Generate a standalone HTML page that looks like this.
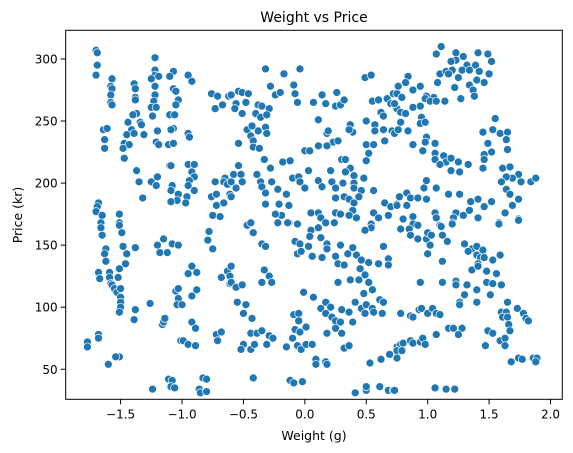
<!DOCTYPE html>
<html><head><meta charset="utf-8"><style>
html,body{margin:0;padding:0;background:#fff;}
svg{display:block;font-family:"DejaVu Sans","Liberation Sans",sans-serif;}
</style></head><body>
<svg id="chart" width="573" height="453" viewBox="0 0 573 453" xmlns="http://www.w3.org/2000/svg">
<rect width="573" height="453" fill="#fff"/>
<text x="314" y="22" font-size="14" text-anchor="middle" fill="#000">Weight vs Price</text>
<text x="314" y="440" font-size="12.5" text-anchor="middle" fill="#000">Weight (g)</text>
<text x="0" y="0" font-size="12.5" text-anchor="middle" fill="#000" transform="translate(22,215) rotate(-90)">Price (kr)</text>
<g id="points"></g>
<g id="axes"></g>
</svg>
<script>
const xTicks = [-1.5,-1.0,-0.5,0.0,0.5,1.0,1.5,2.0];
const xTickLabels = ["\u22121.5","\u22121.0","\u22120.5","0.0","0.5","1.0","1.5","2.0"];
const yTicks = [50,100,150,200,250,300];
const yTickLabels = ["50","100","150","200","250","300"];
const weights = [
-1.70,-1.69,-1.69,-1.70,-1.57,-1.58,-1.57,-1.58,-1.58,-1.57,
-1.22,-1.22,-1.22,-1.19,-1.25,-1.22,-1.22,-1.23,-1.25,-1.21,
-1.24,-1.39,-1.38,-1.38,-1.38,-1.37,-1.40,-1.44,-1.41,-1.45,
-1.39,-1.34,-1.33,-1.31,-1.47,-1.43,-1.48,-1.47,-1.20,-1.21,
-1.19,-1.11,-1.07,-1.07,-1.10,-1.07,-1.05,-1.03,-1.05,-1.10,
-1.06,-1.07,-1.09,-0.95,-0.92,-0.95,-0.94,-1.64,-1.61,-1.63,
-1.63,-0.76,-0.71,-0.62,-0.73,-0.67,-1.37,-1.35,-1.25,-1.21,
-1.20,-1.10,-1.09,-0.95,-0.90,-0.92,-0.90,-0.94,-0.95,-0.90,
-1.08,-1.09,-1.03,-1.04,-1.09,-0.96,-0.97,-1.32,-1.68,-1.69,
-1.70,-1.65,-1.51,-0.73,-0.65,-0.66,-0.63,-0.61,-0.76,-0.72,
-0.72,-0.66,-0.75,-0.69,
-1.66,-1.66,-1.65,-1.51,-1.51,-1.49,-1.48,-1.45,-1.46,-1.38,
-1.62,-1.63,-1.62,-1.68,-1.67,-1.59,-1.59,-1.58,-1.57,-1.55,
-1.53,-1.51,-1.52,-1.50,-1.50,-1.50,-1.50,-1.51,-1.39,-1.38,
-1.20,-1.15,-1.18,-1.12,-1.08,-1.03,-1.26,-1.16,-1.15,-1.14,
-1.05,-1.03,-1.03,-1.04,-1.00,-0.95,-0.92,-0.88,-0.92,-0.88,
-0.92,-0.89,-1.01,-0.99,-0.95,-0.89,-0.78,-0.79,-0.75,-0.72,
-0.68,-0.71,-0.68,-0.63,-0.61,-0.61,-1.68,-1.68,-1.77,-1.77,
-1.51,-1.54,-1.60,-1.24,-1.11,-1.08,-1.09,-1.06,-0.83,-0.80,
-0.86,-0.85,-0.80,
-0.60,-0.54,-0.51,-0.46,-0.56,-0.57,-0.51,-0.48,-0.38,-0.35,
-0.29,-0.40,-0.36,-0.31,-0.47,-0.43,-0.38,-0.32,-0.31,-0.44,
-0.42,-0.42,-0.37,-0.54,-0.32,-0.28,-0.24,-0.20,-0.17,-0.04,
-0.09,-0.08,-0.06,0.07,0.14,0.17,0.26,0.25,0.29,0.32,
0.11,0.18,0.19,0.23,0.27,0.11,0.18,0.00,0.04,0.37,
0.39,0.36,0.49,0.54,0.50,0.57,0.57,0.55,0.60,0.67,
0.70,0.72,0.75,0.62,0.64,0.64,0.71,0.73,0.65,0.50,
0.56,0.52,0.50,-0.33,-0.28,-0.18,-0.12,-0.54,-0.58,-0.52,
-0.51,-0.60,-0.56,-0.60,-0.39,-0.36,-0.35,-0.32,-0.27,-0.22,
-0.15,-0.10,-0.05,-0.04,0.00,0.03,0.11,0.14,0.21,0.22,
0.25,0.30,0.33,0.37,0.33,0.40,0.31,0.40,0.40,0.46,
0.25,0.32,0.36,0.40,0.44,0.39,0.48,0.56,-0.32,-0.21,
-0.19,-0.13,-0.24,-0.13,-0.06,0.05,0.11,0.13,0.25,0.29,
0.36,0.42,0.54,0.56,0.60,0.65,0.70,0.75,0.68,-0.44,
-0.47,-0.44,-0.42,-0.22,-0.14,-0.06,0.05,0.04,0.11,0.17,
0.24,0.13,-0.08,-0.04,0.03,-0.06,-0.03,0.06,0.14,0.18,
0.18,0.29,0.35,0.39,0.25,0.27,0.32,0.42,0.46,0.52,
0.45,0.49,0.37,0.44,0.52,0.55,0.48,0.27,0.60,0.68,
0.68,0.54,0.49,0.64,-0.35,-0.32,-0.33,-0.29,-0.35,-0.27,
-0.60,-0.60,-0.56,-0.51,-0.01,0.07,-0.55,-0.48,-0.50,-0.43,
0.13,0.17,0.21,0.17,0.22,0.25,0.29,0.25,0.30,0.36,
0.39,0.30,0.18,0.41,0.46,0.50,0.55,0.49,0.56,0.61,
0.64,0.63,-0.09,-0.05,-0.05,-0.08,-0.04,0.01,-0.10,-0.15,
-0.06,-0.03,0.01,0.06,-0.44,-0.39,-0.35,-0.29,-0.26,-0.31,
-0.50,-0.52,-0.44,-0.41,0.32,0.36,0.09,0.09,0.17,0.18,
0.53,0.62,0.69,0.75,0.75,-0.42,-0.12,-0.09,-0.02,0.41,
0.50,0.50,0.61,0.68,0.72,
1.11,1.07,1.23,1.29,1.23,1.19,1.41,1.49,1.52,1.32,
1.39,1.10,1.15,1.20,1.28,1.34,1.42,1.50,1.08,1.17,
1.25,1.22,1.34,1.37,1.38,1.46,1.40,1.27,0.84,0.82,
0.76,0.75,0.79,0.88,0.94,0.99,1.05,0.98,1.02,1.07,
1.14,0.94,0.88,0.73,0.78,0.82,0.78,0.95,0.94,0.98,
0.76,0.84,0.99,0.98,0.88,0.96,1.06,1.06,1.13,1.15,
1.19,1.06,1.10,1.19,1.26,1.25,1.33,1.45,1.53,1.59,
1.65,1.64,1.55,1.49,1.52,1.46,1.46,1.65,1.45,1.61,
1.67,1.74,1.76,1.69,1.64,1.60,1.84,1.88,1.64,1.67,
1.74,1.69,1.63,1.74,1.58,1.52,1.46,1.41,1.35,1.34,
1.29,1.23,1.21,1.17,1.26,1.07,0.99,0.97,0.83,0.86,
0.92,0.77,0.75,0.83,0.88,0.80,1.06,1.07,1.10,1.20,
1.41,0.99,0.88,
0.78,0.85,0.86,0.92,0.92,0.99,1.00,1.03,1.02,1.00,
1.11,1.12,1.16,1.20,1.12,0.94,1.12,1.23,1.23,1.32,
1.30,1.40,1.26,1.26,1.40,1.51,1.48,1.53,1.60,1.56,
1.48,1.36,1.30,1.36,1.33,1.40,1.45,1.40,1.43,1.41,
1.46,1.53,1.59,1.41,1.65,1.60,1.64,1.61,1.65,1.73,
1.78,1.80,1.82,1.66,1.67,1.49,1.53,1.59,1.63,1.63,
1.47,1.17,1.21,1.28,1.25,1.07,0.78,0.86,0.88,0.93,
0.95,1.00,1.04,1.07,1.10,0.78,0.80,0.75,0.75,0.79,
0.86,0.88,0.94,0.96,0.98,1.68,1.74,1.77,1.86,1.89,
1.88,1.06,1.15,1.22,0.73,1.58,1.74
];
const prices = [
307,305,295,287,284,278,276,271,265,263,
301,291,287,286,284,278,271,266,261,261,
254,280,276,269,267,256,255,249,243,239,
240,249,247,239,232,231,228,220,242,233,
231,231,232,290,286,276,274,267,263,255,
255,244,243,287,282,240,237,243,244,235,
228,272,270,270,260,263,210,201,201,198,
205,214,214,215,215,209,205,202,198,194,
198,194,191,186,185,189,184,188,184,181,
177,174,175,201,204,201,199,191,189,191,
182,184,174,173,
168,164,158,168,166,160,149,143,135,148,
147,143,137,128,123,128,124,119,118,115,
112,131,124,115,108,104,100,96,90,98,
150,155,144,144,151,150,103,86,88,91,
113,115,107,102,102,127,133,128,109,114,
88,83,73,73,70,69,161,154,147,78,
80,73,124,129,125,119,78,75,72,68,
60,60,54,34,42,41,36,35,43,42,
34,31,32,
271,274,273,272,264,260,256,265,263,262,
260,256,253,255,243,246,242,245,240,238,
234,229,228,232,292,278,271,273,288,292,
279,272,265,265,271,264,273,262,263,267,
251,240,242,233,234,230,230,226,226,247,
241,243,285,287,250,247,242,266,267,268,
264,272,260,257,254,243,242,240,234,231,
231,224,218,219,212,217,218,214,207,207,
201,201,196,189,207,201,197,192,201,195,
191,204,205,201,196,210,202,197,210,201,
196,219,219,212,209,206,200,200,196,194,
188,189,187,184,189,178,204,194,183,183,
174,182,175,168,167,176,176,172,176,175,
174,172,167,176,172,184,181,183,174,168,
166,168,160,168,168,167,162,157,164,168,
168,156,153,151,149,143,145,141,140,151,
147,150,143,148,141,135,134,142,138,136,
131,126,122,122,120,114,111,120,135,139,
134,164,162,149,151,149,130,125,120,120,
133,120,116,118,112,108,104,102,95,91,
99,104,100,95,92,89,88,83,98,96,
88,79,79,104,99,102,99,95,96,106,
104,95,94,95,89,82,80,84,75,68,
69,66,70,70,79,79,81,77,75,70,
70,66,66,70,67,69,58,54,56,54,
55,58,62,60,68,43,41,39,40,31,
33,36,36,33,33,
310,304,305,302,299,298,305,304,298,295,
295,288,290,291,291,291,290,288,281,288,
285,277,279,275,270,281,283,268,286,281,
278,272,269,275,278,270,269,268,266,266,
266,262,261,264,257,256,249,253,248,249,
243,242,237,233,231,226,232,224,222,217,
220,219,215,210,209,217,215,241,243,240,
241,235,252,232,225,223,219,227,212,212,
213,207,201,204,205,201,201,204,195,191,
187,182,176,171,168,185,181,187,185,178,
174,176,172,191,191,196,202,196,192,188,
188,189,182,182,173,171,176,172,166,168,
172,187,167,
163,163,158,166,155,155,160,158,150,143,
165,158,153,167,137,120,120,121,118,118,
110,114,104,102,104,110,120,119,118,127,
129,130,151,147,145,149,146,142,140,135,
140,138,142,133,104,96,96,92,92,99,
95,91,89,86,81,81,79,73,75,69,
69,83,83,83,78,78,95,93,92,98,
99,95,99,95,94,70,71,65,59,65,
73,71,72,75,70,56,59,58,59,59,
56,35,34,34,33,167,170
];

const NS = "http://www.w3.org/2000/svg";
const plot = {left:65.7, right:562.3, top:30.3, bottom:399.3};
const xDomain = [-1.947, 2.096];
const yDomain = [25.8, 323.1];
function xScale(v){ return plot.left + (v - xDomain[0]) / (xDomain[1] - xDomain[0]) * (plot.right - plot.left); }
function yScale(v){ return plot.bottom - (v - yDomain[0]) / (yDomain[1] - yDomain[0]) * (plot.bottom - plot.top); }

const pg = document.getElementById('points');
const n = Math.min(weights.length, prices.length);
for (let i = 0; i < n; i++) {
  const c = document.createElementNS(NS, 'circle');
  c.setAttribute('cx', xScale(weights[i]).toFixed(2));
  c.setAttribute('cy', yScale(prices[i]).toFixed(2));
  c.setAttribute('r', '4');
  c.setAttribute('fill', '#1f77b4');
  c.setAttribute('stroke', '#ffffff');
  c.setAttribute('stroke-width', '0.7');
  
  
  pg.appendChild(c);
}

const ag = document.getElementById('axes');
const frame = document.createElementNS(NS, 'rect');
frame.setAttribute('x', plot.left);
frame.setAttribute('y', plot.top);
frame.setAttribute('width', plot.right - plot.left);
frame.setAttribute('height', plot.bottom - plot.top);
frame.setAttribute('fill', 'none');
frame.setAttribute('stroke', '#000');
frame.setAttribute('stroke-width', '1');


ag.appendChild(frame);

xTicks.forEach((t, i) => {
  const x = xScale(t);
  const l = document.createElementNS(NS, 'line');
  l.setAttribute('x1', x); l.setAttribute('x2', x);
  l.setAttribute('y1', plot.bottom); l.setAttribute('y2', plot.bottom + 5);
  l.setAttribute('stroke', '#000'); l.setAttribute('stroke-width', '1');
  
  
  ag.appendChild(l);
  const tx = document.createElementNS(NS, 'text');
  tx.setAttribute('x', x); tx.setAttribute('y', plot.bottom + 19);
  tx.setAttribute('font-size', '12'); tx.setAttribute('text-anchor', 'middle');
  tx.textContent = xTickLabels[i];
  
  
  ag.appendChild(tx);
});
yTicks.forEach((t, i) => {
  const y = yScale(t);
  const l = document.createElementNS(NS, 'line');
  l.setAttribute('x1', plot.left - 5); l.setAttribute('x2', plot.left);
  l.setAttribute('y1', y); l.setAttribute('y2', y);
  l.setAttribute('stroke', '#000'); l.setAttribute('stroke-width', '1');
  
  
  ag.appendChild(l);
  const tx = document.createElementNS(NS, 'text');
  tx.setAttribute('x', plot.left - 8); tx.setAttribute('y', y + 4.5);
  tx.setAttribute('font-size', '12'); tx.setAttribute('text-anchor', 'end');
  tx.textContent = yTickLabels[i];
  
  
  ag.appendChild(tx);
});
</script>
</body></html>
